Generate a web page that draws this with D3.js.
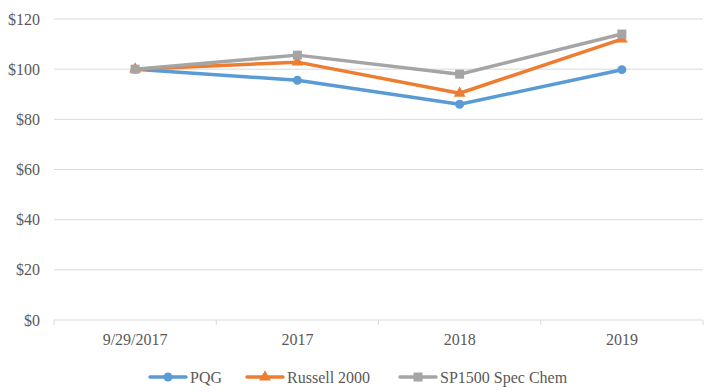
<!DOCTYPE html>
<html>
<head>
<meta charset="utf-8">
<script src="https://cdn.jsdelivr.net/npm/d3@7"></script>
<style>
  body { margin: 0; background: #fff; }
</style>
</head>
<body>
<svg id="chart" width="714" height="392"></svg>
<script>
const categories = ['9/29/2017', '2017', '2018', '2019'];
const pqg = [100, 95.6, 86, 99.8];
const russell = [100, 102.8, 90.4, 112];
const spChem = [100, 105.6, 98, 114];
const yTicks = [0, 20, 40, 60, 80, 100, 120];

const series = [
  { name: 'PQG', values: pqg, color: '#5b9bd5', marker: 'circle' },
  { name: 'Russell 2000', values: russell, color: '#ed7d31', marker: 'triangle' },
  { name: 'SP1500 Spec Chem', values: spChem, color: '#a5a5a5', marker: 'square' }
];

const FONT = "'Liberation Serif', 'DejaVu Serif', 'Times New Roman', Times, serif";
const TEXT_COLOR = '#595959';

const svg = d3.select('#chart')
  .attr('font-family', FONT);
const margin = { left: 54, right: 11, top: 19, bottom: 72 };
const width = 714, height = 392;

const x = d3.scaleBand()
  .domain(categories)
  .range([margin.left, width - margin.right]);

const y = d3.scaleLinear()
  .domain([0, 120])
  .range([height - margin.bottom, margin.top]);

// gridlines
svg.append('g')
  .selectAll('line')
  .data(yTicks.filter(d => d > 0))
  .enter().append('line')
    .attr('x1', margin.left)
    .attr('x2', width - margin.right)
    .attr('y1', d => y(d))
    .attr('y2', d => y(d))
    .attr('stroke', '#d9d9d9')
    .attr('stroke-width', 1);

// y labels
svg.append('g')
  .selectAll('text')
  .data(yTicks)
  .enter().append('text')
    .attr('x', 40)
    .attr('y', d => y(d))
    .attr('dy', '0.35em')
    .attr('text-anchor', 'end')
    .attr('font-family', FONT)
    .attr('font-size', 16)
    .attr('fill', TEXT_COLOR)
    .text(d => '$' + d);

// x axis line and ticks
const xAxis = svg.append('g');
xAxis.append('line')
  .attr('x1', margin.left)
  .attr('x2', width - margin.right)
  .attr('y1', y(0))
  .attr('y2', y(0))
  .attr('stroke', '#d9d9d9');

const bounds = categories.map(c => x(c)).concat([x(categories[categories.length - 1]) + x.bandwidth()]);
xAxis.selectAll('.tick')
  .data(bounds)
  .enter().append('line')
    .attr('x1', d => d)
    .attr('x2', d => d)
    .attr('y1', y(0))
    .attr('y2', y(0) + 5)
    .attr('stroke', '#d9d9d9');

xAxis.selectAll('text')
  .data(categories)
  .enter().append('text')
    .attr('x', d => x(d) + x.bandwidth() / 2)
    .attr('y', y(0) + 25)
    .attr('text-anchor', 'middle')
    .attr('font-family', FONT)
    .attr('font-size', 16)
    .attr('fill', TEXT_COLOR)
    .text(d => d);

const line = d3.line()
  .x((d, i) => x(categories[i]) + x.bandwidth() / 2)
  .y(d => y(d));

function drawMarker(g, type, color, cx, cy) {
  if (type === 'circle') {
    g.append('circle').attr('cx', cx).attr('cy', cy).attr('r', 4.5).attr('fill', color);
  } else if (type === 'triangle') {
    g.append('path')
      .attr('d', d3.symbol().type(d3.symbolTriangle).size(60)())
      .attr('transform', `translate(${cx},${cy})`)
      .attr('fill', color);
  } else {
    g.append('rect').attr('x', cx - 4.5).attr('y', cy - 4.5)
      .attr('width', 9).attr('height', 9).attr('fill', color);
  }
}

const lines = svg.append('g');
series.forEach(s => {
  lines.append('path')
    .datum(s.values)
    .attr('d', line)
    .attr('fill', 'none')
    .attr('stroke', s.color)
    .attr('stroke-width', 3.5)
    .attr('stroke-linejoin', 'round');
  s.values.forEach((v, i) => {
    drawMarker(lines, s.marker, s.color, x(categories[i]) + x.bandwidth() / 2, y(v));
  });
});

// legend
const legendX = [150, 247, 400];
const legend = svg.append('g');
series.forEach((s, i) => {
  const lx = legendX[i], ly = 377;
  legend.append('line')
    .attr('x1', lx).attr('x2', lx + 36)
    .attr('y1', ly).attr('y2', ly)
    .attr('stroke', s.color)
    .attr('stroke-width', 3.5)
    .attr('stroke-linecap', 'round');
  drawMarker(legend, s.marker, s.color, lx + 18, ly);
  legend.append('text')
    .attr('x', lx + 40)
    .attr('y', ly)
    .attr('dy', '0.35em')
    .attr('font-family', FONT)
    .attr('font-size', 16)
    .attr('fill', TEXT_COLOR)
    .text(s.name);
});
</script>
</body>
</html>
